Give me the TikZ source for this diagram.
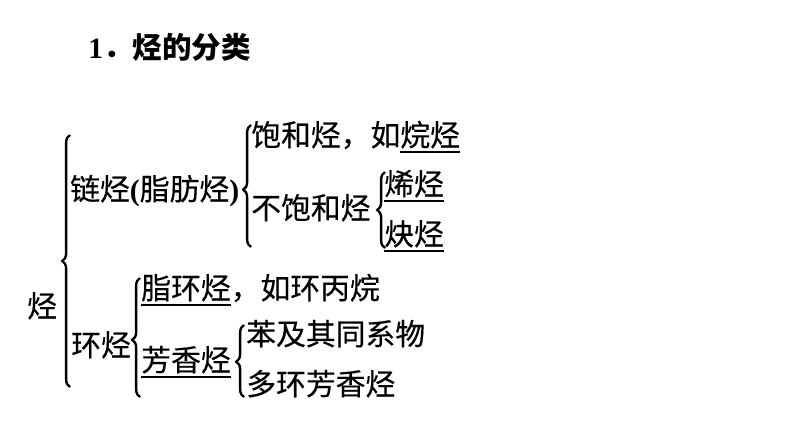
\documentclass[tikz,border=0pt]{standalone}
\usepackage{fontspec}
\newfontfamily\cjk[FakeBold=0.4]{Noto Sans CJK SC}
\newfontfamily\cjkb{Noto Sans CJK SC}
\newfontfamily\lat{Liberation Serif}
\usetikzlibrary{positioning,decorations.pathreplacing}
\newcommand\ulw[1]{\vtop{\hbox{#1}\kern2pt\hrule height 1.2pt}}

\begin{document}
\begin{tikzpicture}[x=0.025cm, y=-0.025cm,
  txt/.style={anchor=base west, inner sep=0pt, font=\cjk\fontsize{21.2}{24}\selectfont},
  brc/.style={decorate, decoration={brace, amplitude=5.5pt, aspect=#1}, line width=1.7pt},
  brc/.default=0.5
]
\useasboundingbox (0,0) rectangle (794,447);
\node[txt, font=\cjkb\bfseries\fontsize{21}{24}\selectfont] (title) at (88,58) {{\lat\bfseries 1}．烃的分类};
\node[txt] (ting) at (27,317) {烃};
\node[txt] (lian) at (70,200) {链烃{\lat\bfseries(}脂肪烃{\lat\bfseries)}};
\node[txt] (bao) at (251,146) {饱和烃，如\ulw{烷烃}};
\node[txt] (bubao) at (251,219) {不饱和烃};
\node[txt] (xi) at (384,195) {\ulw{烯烃}};
\node[txt] (que) at (384,245) {\ulw{炔烃}};
\node[txt] (huan) at (71,356) {环烃};
\node[txt] (zhi) at (141,299) {\ulw{脂环烃}，如环丙烷};
\node[txt] (fang) at (141,371) {\ulw{芳香烃}};
\node[txt] (ben) at (246,345) {苯及其同系物};
\node[txt] (duo) at (246,395) {多环芳香烃};
\draw[brc] (70,387) -- (70,135);
\draw[brc=0.47] (251,247) -- (251,125);
\draw[brc] (385,248) -- (385,172);
\draw[brc=0.48] (140,397) -- (140,278);
\draw[brc=0.49] (244,397) -- (244,325);
\end{tikzpicture}
\end{document}
